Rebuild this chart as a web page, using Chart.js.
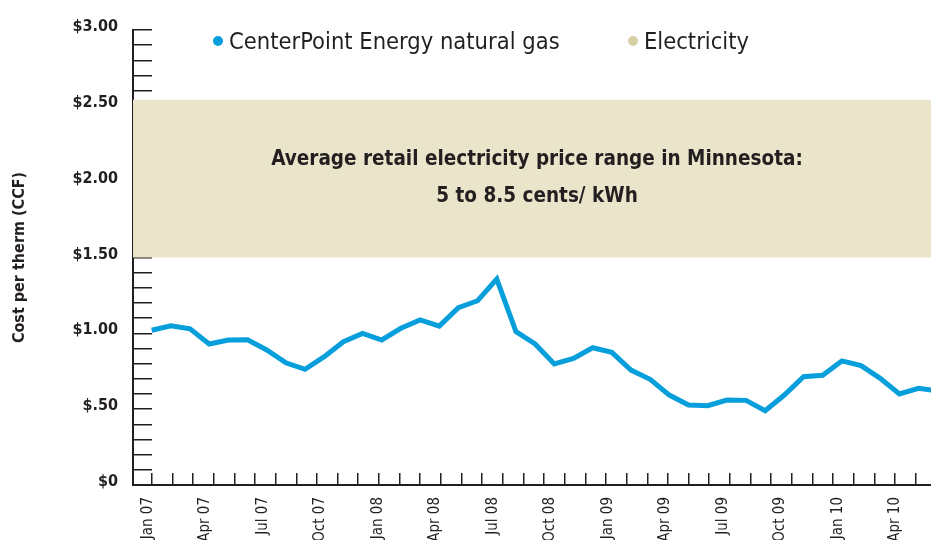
<!DOCTYPE html>
<html>
<head>
<meta charset="utf-8">
<script src="https://cdn.jsdelivr.net/npm/chart.js@4.4.1/dist/chart.umd.min.js"></script>
<style>
  html, body { margin: 0; padding: 0; background: #fff; overflow: hidden; }
  #wrap { position: relative; width: 931px; height: 540px; }
  canvas { position: absolute; left: 0; top: 0; }
  .leg { position: absolute; top: 26px; font-family: 'DejaVu Sans Condensed', sans-serif; font-size: 23.5px; color: #231f20; white-space: nowrap; line-height: 30px; }
  .dot { display: inline-block; width: 10px; height: 10px; border-radius: 50%; margin-right: 6px; vertical-align: 3px; }
</style>
</head>
<body>
<div id="wrap">
  <canvas id="c" width="931" height="540"></canvas>
  <div class="leg" style="left:213px"><span class="dot" style="background:#069fdb"></span>CenterPoint Energy natural gas</div>
  <div class="leg" style="left:628px"><span class="dot" style="background:#d6d0a5"></span>Electricity</div>
</div>
<script>
// ---- data ----
const months = [
  'Jan 07','Feb 07','Mar 07','Apr 07','May 07','Jun 07','Jul 07','Aug 07','Sep 07','Oct 07','Nov 07','Dec 07',
  'Jan 08','Feb 08','Mar 08','Apr 08','May 08','Jun 08','Jul 08','Aug 08','Sep 08','Oct 08','Nov 08','Dec 08',
  'Jan 09','Feb 09','Mar 09','Apr 09','May 09','Jun 09','Jul 09','Aug 09','Sep 09','Oct 09','Nov 09','Dec 09',
  'Jan 10','Feb 10','Mar 10','Apr 10','May 10','Jun 10'
];
const gasCost = [
  1.02, 1.05, 1.03, 0.93, 0.956, 0.958, 0.89, 0.806, 0.763, 0.846, 0.945, 1.00,
  0.956, 1.033, 1.088, 1.048, 1.169, 1.215, 1.358, 1.011, 0.93, 0.798, 0.835, 0.905,
  0.875, 0.758, 0.697, 0.593, 0.527, 0.523, 0.56, 0.558, 0.49, 0.593, 0.714, 0.723,
  0.818, 0.787, 0.703, 0.60, 0.637, 0.62
];
const electricityLow = 1.50;
const electricityHigh = 2.54;
const xTickLabels = ['Jan 07','Apr 07','Jul 07','Oct 07','Jan 08','Apr 08','Jul 08','Oct 08','Jan 09','Apr 09','Jul 09','Oct 09','Jan 10','Apr 10'];
const yTickLabels = { 0: '$0', 5: '$.50', 10: '$1.00', 15: '$1.50', 20: '$2.00', 25: '$2.50', 30: '$3.00' };
const bandText = ['Average retail electricity price range in Minnesota:', '5 to 8.5 cents/ kWh'];

// ---- build ----
const gasPoints = gasCost.map((v, i) => ({ x: i, y: v }));
const xFirst = -1, xLast = months.length;
const FONT = "'DejaVu Sans Condensed', sans-serif";
const INK = '#231f20';

function noPad(s) { s.paddingLeft = 0; s.paddingRight = 0; s.paddingTop = 0; s.paddingBottom = 0; }

const bandLabel = {
  id: 'bandLabel',
  afterDatasetsDraw(chart) {
    const { ctx, chartArea, scales } = chart;
    const yMid = scales.y.getPixelForValue((electricityLow + electricityHigh) / 2);
    const xMid = (chartArea.left + chartArea.right) / 2 + 5;
    ctx.save();
    ctx.fillStyle = INK;
    ctx.font = "bold 20.5px " + FONT;
    ctx.textAlign = 'center';
    ctx.textBaseline = 'middle';
    ctx.fillText(bandText[0], xMid, yMid - 19);
    ctx.fillText(bandText[1], xMid, yMid + 18);
    ctx.restore();
  }
};

new Chart(document.getElementById('c'), {
  type: 'line',
  data: {
    datasets: [
      {
        label: 'elecLow', xAxisID: 'x', yAxisID: 'y',
        data: [{ x: xFirst, y: electricityLow }, { x: xLast, y: electricityLow }],
        borderWidth: 0, pointRadius: 0, fill: false, order: 3
      },
      {
        label: 'Electricity', xAxisID: 'x', yAxisID: 'y',
        data: [{ x: xFirst, y: electricityHigh }, { x: xLast, y: electricityHigh }],
        borderWidth: 0, pointRadius: 0, fill: '-1',
        backgroundColor: '#e9e4ca', order: 2
      },
      {
        label: 'CenterPoint Energy natural gas', xAxisID: 'x', yAxisID: 'y',
        data: gasPoints,
        borderColor: '#069fdb', borderWidth: 5, pointRadius: 0, tension: 0,
        borderJoinStyle: 'miter', fill: false, order: 1
      }
    ]
  },
  options: {
    responsive: false,
    devicePixelRatio: 1,
    animation: false,
    events: [],
    layout: { padding: { top: 30, right: 0, left: 0, bottom: 0 } },
    plugins: { legend: { display: false }, tooltip: { enabled: false } },
    scales: {
      x: {
        type: 'linear', position: 'bottom', weight: 0,
        min: -0.975, max: 40.65,
        afterFit(s) { s.height = 55; noPad(s); },
        border: { display: true, color: INK, width: 2 },
        grid: { display: false, drawTicks: false },
        ticks: {
          stepSize: 1, autoSkip: false, includeBounds: false,
          minRotation: 90, maxRotation: 90, padding: 12, labelOffset: -4,
          color: INK, font: { family: FONT, size: 15 },
          callback: (v) => {
            const lbl = months[v];
            return lbl && xTickLabels.includes(lbl) ? lbl : '';
          }
        }
      },
      x2: {
        type: 'linear', position: 'bottom', weight: -1,
        min: -0.906, max: 37.74,
        afterFit(s) { s.height = 0; noPad(s); },
        border: { display: false },
        grid: { display: true, drawOnChartArea: false, drawTicks: true, tickLength: -12, color: INK, lineWidth: 1.5 },
        ticks: { stepSize: 1, autoSkip: false, includeBounds: false, display: true, callback: () => '', padding: 0 }
      },
      y: {
        position: 'left', min: 0, max: 3,
        afterFit(s) { s.width = 133; noPad(s); },
        border: { display: true, color: INK, width: 2 },
        grid: { display: true, drawOnChartArea: false, drawTicks: true, tickLength: -19, color: INK, lineWidth: 1.5 },
        ticks: {
          stepSize: 0.1, autoSkip: false, padding: 34, labelOffset: -3,
          color: INK, font: { family: FONT, size: 16, weight: 'bold' },
          callback: (v) => yTickLabels[Math.round(v * 10)] || ''
        },
        title: {
          display: true, text: 'Cost per therm (CCF)', color: INK,
          font: { family: FONT, size: 16, weight: 'bold' },
          padding: { top: 10, bottom: 0 }
        }
      }
    }
  },
  plugins: [bandLabel]
});
</script>
</body>
</html>
